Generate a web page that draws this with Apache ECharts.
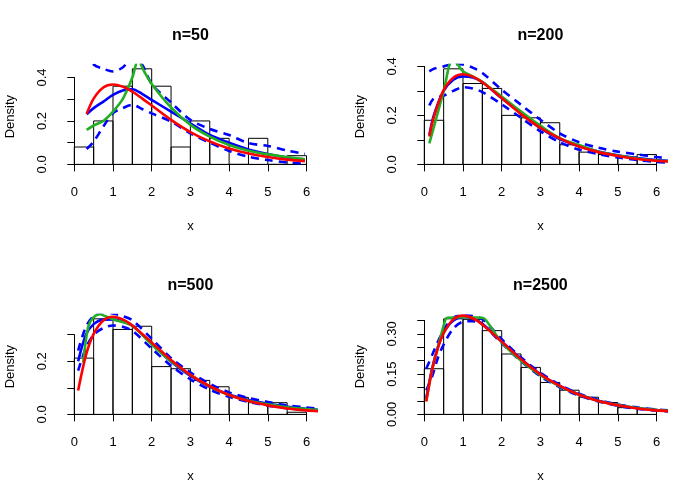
<!DOCTYPE html>
<html>
	<head>
		<meta charset="utf-8">
		<title></title>
		<script src="https://cdn.jsdelivr.net/npm/echarts@6/dist/echarts.min.js"></script>
		<style>
			html, body { margin: 0; padding: 0; background: #fff; }
			#main { width: 700px; height: 500px; }
		</style>
	</head>
	<body>
		<div id="main"></div>
		<script>
			// histogram breaks (same for all panels)
			const breaks = [0, 0.5, 1, 1.5, 2, 2.5, 3, 3.5, 4, 4.5, 5, 5.5, 6]
			const titles = ['n=50', 'n=200', 'n=500', 'n=2500']
			const xTicks = ['0', '1', '2', '3', '4', '5', '6']
			// y ticks: step, top tick, labels that are printed
			const yStep = [0.1, 0.1, 0.1, 0.05]
			const yTop = [0.4, 0.4, 0.3, 0.35]
			const yLabels = [['0.0', '0.2', '0.4'], ['0.0', '0.2', '0.4'], ['0.0', '0.2'], ['0.00', '0.15', '0.30']]

			// bin densities
			const dens50 = [0.08, 0.20, 0.36, 0.44, 0.36, 0.08, 0.20, 0.12, 0, 0.12, 0, 0.04]
			const dens200 = [0.18, 0.39, 0.33, 0.31, 0.20, 0.19, 0.17, 0.08, 0.05, 0.04, 0.03, 0.04]
			const dens500 = [0.212, 0.36, 0.32, 0.332, 0.18, 0.172, 0.128, 0.104, 0.064, 0.044, 0.044, 0.008]
			const dens2500 = [0.170, 0.356, 0.354, 0.312, 0.225, 0.175, 0.119, 0.090, 0.064, 0.044, 0.025, 0.019]

			// n=50 curves
			const x50 = [0.32, 0.5, 0.75, 1, 1.25, 1.5, 1.75, 2, 2.5, 3, 3.5, 4, 4.5, 5, 5.5, 5.96]
			const red50 = [0.233, 0.303, 0.354, 0.368, 0.358, 0.335, 0.304, 0.271, 0.205, 0.149, 0.106, 0.073, 0.050, 0.034, 0.022, 0.015]
			const blue50 = [0.231, 0.259, 0.289, 0.320, 0.340, 0.346, 0.325, 0.297, 0.243, 0.189, 0.136, 0.100, 0.069, 0.048, 0.032, 0.023]
			const lo50 = [0.071, 0.105, 0.174, 0.236, 0.259, 0.274, 0.255, 0.235, 0.197, 0.143, 0.100, 0.062, 0.035, 0.020, 0.009, 0.003]
			const hi50 = [0.52, 0.46, 0.44, 0.428, 0.446, 0.49, 0.46, 0.37, 0.285, 0.205, 0.163, 0.135, 0.098, 0.085, 0.064, 0.048]
			const xg50 = [0.32, 0.5, 0.75, 1, 1.25, 1.5, 1.65, 1.8, 2, 2.5, 3, 3.5, 4, 4.5, 5, 5.5, 5.96]
			const green50 = [0.159, 0.179, 0.200, 0.243, 0.300, 0.400, 0.480, 0.430, 0.370, 0.262, 0.182, 0.128, 0.089, 0.063, 0.046, 0.034, 0.023]

			// n=200 curves
			const x200 = [0.13, 0.25, 0.5, 0.75, 1, 1.25, 1.5, 2, 2.5, 3, 3.5, 4, 4.5, 5, 5.5, 6, 6.3]
			const red200 = [0.114, 0.195, 0.303, 0.354, 0.368, 0.358, 0.335, 0.271, 0.205, 0.149, 0.106, 0.073, 0.050, 0.034, 0.022, 0.015, 0.012]
			const blue200 = [0.120, 0.202, 0.300, 0.346, 0.359, 0.355, 0.336, 0.270, 0.209, 0.148, 0.103, 0.074, 0.053, 0.037, 0.026, 0.018, 0.015]
			const hi200 = [0.380, 0.390, 0.400, 0.410, 0.408, 0.395, 0.373, 0.305, 0.243, 0.182, 0.127, 0.090, 0.068, 0.052, 0.041, 0.030, 0.025]
			const lo200 = [0.240, 0.270, 0.280, 0.300, 0.315, 0.310, 0.295, 0.245, 0.190, 0.135, 0.090, 0.060, 0.042, 0.028, 0.018, 0.010, 0.007]
			const xg200 = [0.13, 0.25, 0.5, 0.72, 0.85, 1, 1.25, 1.5, 2, 2.5, 3, 3.5, 4, 4.5, 5, 5.5, 6, 6.3]
			const green200 = [0.086, 0.154, 0.298, 0.425, 0.410, 0.380, 0.359, 0.336, 0.277, 0.216, 0.158, 0.107, 0.079, 0.052, 0.036, 0.024, 0.016, 0.013]

			// n=500 curves
			const x500 = [0.1, 0.3, 0.5, 0.75, 1, 1.25, 1.5, 2, 2.5, 3, 3.5, 4, 4.5, 5, 5.5, 6, 6.3]
			const red500 = [0.090, 0.222, 0.303, 0.354, 0.368, 0.358, 0.335, 0.271, 0.205, 0.149, 0.106, 0.073, 0.050, 0.034, 0.022, 0.015, 0.012]
			const blue500 = [0.200, 0.300, 0.340, 0.357, 0.358, 0.350, 0.335, 0.265, 0.198, 0.145, 0.104, 0.075, 0.054, 0.040, 0.029, 0.021, 0.017]
			const hi500 = [0.240, 0.330, 0.370, 0.385, 0.380, 0.370, 0.355, 0.285, 0.212, 0.158, 0.115, 0.083, 0.062, 0.047, 0.034, 0.026, 0.021]
			const lo500 = [0.165, 0.250, 0.300, 0.325, 0.335, 0.330, 0.315, 0.248, 0.183, 0.132, 0.093, 0.066, 0.047, 0.033, 0.023, 0.016, 0.013]
			const xg500 = [0.23, 0.36, 0.5, 0.66, 0.8, 1, 1.5, 2, 2.5, 3, 3.5, 4, 4.5, 5, 5.5, 6, 6.3]
			const green500 = [0.195, 0.330, 0.366, 0.377, 0.370, 0.358, 0.333, 0.263, 0.200, 0.149, 0.105, 0.073, 0.051, 0.038, 0.027, 0.020, 0.016]

			// n=2500 curves
			const x2500 = [0.05, 0.2, 0.35, 0.5, 0.75, 1, 1.25, 1.5, 2, 2.5, 3, 3.5, 4, 4.5, 5, 5.5, 6, 6.3]
			const red2500 = [0.048, 0.164, 0.247, 0.303, 0.354, 0.368, 0.358, 0.335, 0.271, 0.205, 0.149, 0.106, 0.073, 0.050, 0.034, 0.022, 0.015, 0.012]
			const blue2500 = [0.060, 0.170, 0.250, 0.305, 0.350, 0.362, 0.358, 0.338, 0.272, 0.206, 0.149, 0.106, 0.074, 0.051, 0.035, 0.024, 0.016, 0.013]
			const hi2500 = [0.170, 0.220, 0.270, 0.315, 0.360, 0.368, 0.366, 0.355, 0.280, 0.212, 0.155, 0.110, 0.077, 0.054, 0.037, 0.026, 0.018, 0.015]
			const lo2500 = [0.090, 0.140, 0.210, 0.260, 0.320, 0.345, 0.347, 0.335, 0.265, 0.198, 0.142, 0.101, 0.070, 0.048, 0.032, 0.021, 0.014, 0.011]
			const xg2500 = [0.05, 0.2, 0.35, 0.55, 0.6, 1, 1.5, 1.6, 2, 2.5, 3, 3.5, 4, 4.5, 5, 5.5, 6, 6.3]
			const green2500 = [0.050, 0.165, 0.250, 0.355, 0.360, 0.362, 0.360, 0.350, 0.268, 0.200, 0.146, 0.104, 0.073, 0.050, 0.035, 0.024, 0.016, 0.013]

			const panels = [
				{ dens: dens50, x: x50, red: red50, blue: blue50, lo: lo50, hi: hi50, xg: xg50, green: green50 },
				{ dens: dens200, x: x200, red: red200, blue: blue200, lo: lo200, hi: hi200, xg: xg200, green: green200 },
				{ dens: dens500, x: x500, red: red500, blue: blue500, lo: lo500, hi: hi500, xg: xg500, green: green500 },
				{ dens: dens2500, x: x2500, red: red2500, blue: blue2500, lo: lo2500, hi: hi2500, xg: xg2500, green: green2500 }
			]

			const font = 'Liberation Sans'
			const cells = [[0, 0], [350, 0], [0, 250], [350, 250]]
			const plot = { left: 65, top: 65, width: 250.8, height: 103.2 }
			const xlim = [-0.24, 6.24]

			const option = {
				backgroundColor: '#fff',
				animation: false,
				textStyle: { fontFamily: font },
				title: [], grid: [], xAxis: [], yAxis: [], series: []
			}

			function pairs(xs, ys) {
				return xs.map((v, k) => [v, ys[k]])
			}

			panels.forEach((p, i) => {
				const cx = cells[i][0], cy = cells[i][1]
				const ymax = Math.max(...p.dens)
				const ylim = [-0.04 * ymax, 1.04 * ymax]
				const xPx = v => plot.width * (v - xlim[0]) / (xlim[1] - xlim[0])
				const yPx = v => plot.height * (ylim[1] - v) / (ylim[1] - ylim[0])
				const dec = yStep[i] < 0.1 ? 2 : 1

				option.title.push({
					text: titles[i], left: cx + plot.left + plot.width / 2, top: cy + 28,
					textAlign: 'center', padding: 0,
					textStyle: { fontSize: 16, fontWeight: 'bold', color: '#000', fontFamily: font }
				})

				// data grid (plot region)
				option.grid.push({ left: cx + plot.left, top: cy + plot.top, width: plot.width, height: plot.height })
				// axis grid (spans first to last tick)
				option.grid.push({
					left: cx + plot.left + xPx(0), width: xPx(6) - xPx(0),
					top: cy + plot.top + yPx(yTop[i]), height: yPx(0) - yPx(yTop[i])
				})

				option.xAxis.push({
					gridIndex: 2 * i, type: 'value', min: xlim[0], max: xlim[1],
					axisLine: { show: false }, axisTick: { show: false }, axisLabel: { show: false }, splitLine: { show: false },
					name: 'x', nameLocation: 'middle', nameGap: 52,
					nameTextStyle: { fontSize: 13, color: '#000', fontFamily: font }
				})
				option.xAxis.push({
					gridIndex: 2 * i + 1, type: 'value', min: 0, max: 6, interval: 1,
					offset: plot.height - yPx(0),
					axisLine: { lineStyle: { color: '#000', width: 1 } },
					axisTick: { length: 7, lineStyle: { color: '#000' } },
					axisLabel: { margin: 18, fontSize: 13, color: '#000', fontFamily: font, formatter: v => xTicks[Math.round(v)] },
					splitLine: { show: false }
				})
				option.yAxis.push({
					gridIndex: 2 * i, type: 'value', min: ylim[0], max: ylim[1],
					axisLine: { show: false }, axisTick: { show: false }, axisLabel: { show: false }, splitLine: { show: false },
					name: 'Density', nameLocation: 'middle', nameGap: 48, nameRotate: 90,
					nameTextStyle: { fontSize: 13, color: '#000', fontFamily: font }
				})
				option.yAxis.push({
					gridIndex: 2 * i + 1, type: 'value', min: 0, max: yTop[i], interval: yStep[i],
					offset: xPx(0),
					axisLine: { lineStyle: { color: '#000', width: 1 } },
					axisTick: { length: 7, lineStyle: { color: '#000' } },
					axisLabel: {
						margin: 16, rotate: 90, fontSize: 13, color: '#000', fontFamily: font,
						formatter: v => {
							const s = v.toFixed(dec)
							return yLabels[i].includes(s) ? s : ''
						}
					},
					splitLine: { show: false }
				})

				// histogram bars
				option.series.push({
					type: 'custom', xAxisIndex: 2 * i, yAxisIndex: 2 * i, clip: true,
					data: p.dens.map((d, k) => [breaks[k], breaks[k + 1], d]),
					renderItem: (params, api) => {
						const a = api.coord([api.value(0), 0])
						const b = api.coord([api.value(1), api.value(2)])
						return {
							type: 'rect',
							shape: { x: a[0], y: b[1], width: b[0] - a[0], height: a[1] - b[1] },
							style: { fill: 'none', stroke: '#000', lineWidth: 1 }
						}
					}
				})

				const line = (data, color, dashed) => ({
					type: 'line', xAxisIndex: 2 * i, yAxisIndex: 2 * i, data: data,
					showSymbol: false, smooth: 0.3, clip: true, silent: true,
					lineStyle: { color: color, width: 2.6, type: dashed ? [8, 6] : 'solid' }
				})
				option.series.push(line(pairs(p.x, p.lo), '#0000ff', true))
				option.series.push(line(pairs(p.x, p.hi), '#0000ff', true))
				option.series.push(line(pairs(p.x, p.blue), '#0000ff', false))
				option.series.push(line(pairs(p.xg, p.green), '#22b022', false))
				option.series.push(line(pairs(p.x, p.red), '#ff0000', false))
			})

			const myChart = echarts.init(document.getElementById('main'))
			myChart.setOption(option)
		</script>
	</body>
</html>
